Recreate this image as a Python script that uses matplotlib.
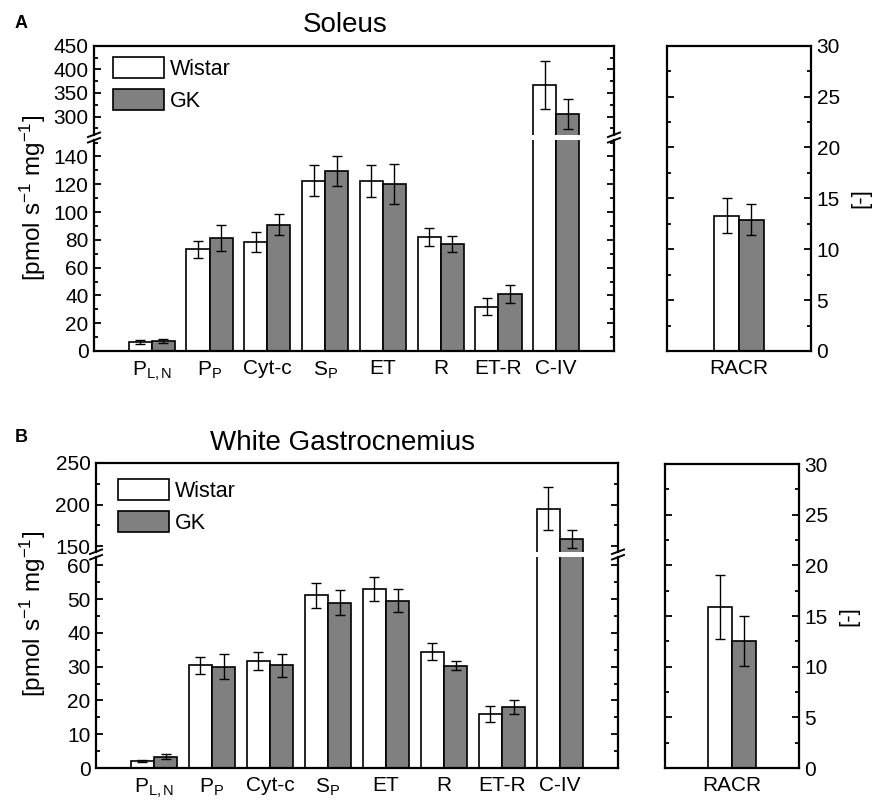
import matplotlib
matplotlib.use('Agg')
import numpy as np
import matplotlib.pyplot as plt
from matplotlib.ticker import MultipleLocator
from matplotlib.lines import Line2D

plt.rcParams['font.family'] = ['Liberation Sans', 'DejaVu Sans']
plt.rcParams['mathtext.fontset'] = 'custom'
plt.rcParams['mathtext.rm'] = 'Liberation Sans'
plt.rcParams['mathtext.it'] = 'Liberation Sans:italic'

W, H = 873, 800

categories = ['$\\mathregular{P_{L,N}}$', '$\\mathregular{P_P}$', 'Cyt-c', '$\\mathregular{S_P}$',
              'ET', 'R', 'ET-R', 'C-IV']

# Soleus
sol_wistar = [6.3, 73.2, 78.4, 122.5, 122.5, 81.7, 32.0, 367]
sol_wistar_err = [1.5, 6.0, 7.0, 11.0, 11.5, 6.5, 6.0, 50]
sol_gk = [7.2, 81.2, 91.0, 129.5, 120.0, 77.0, 41.0, 305]
sol_gk_err = [1.5, 9.6, 7.5, 11.0, 14.5, 6.0, 6.5, 32]
sol_racr = [13.3, 12.9]
sol_racr_err = [1.7, 1.55]

# White gastrocnemius
wg_wistar = [2.1, 30.4, 31.8, 51.2, 53.1, 34.4, 16.0, 195]
wg_wistar_err = [0.3, 2.6, 2.7, 3.7, 3.6, 2.5, 2.5, 26]
wg_gk = [3.4, 30.0, 30.4, 49.0, 49.6, 30.3, 18.0, 158.5]
wg_gk_err = [0.8, 3.7, 3.4, 3.6, 3.3, 1.3, 2.0, 11]
wg_racr = [15.9, 12.55]
wg_racr_err = [3.15, 2.45]

GRAY = '#808080'
FS = 15
LW_SPINE = 1.6
LW_BAR = 1.2
ERR_KW = dict(ecolor='black', elinewidth=1.0, capsize=3.5, capthick=1.0)


def px_axes(fig, x0, y0, x1, y1):
    return fig.add_axes([x0 / W, 1 - y1 / H, (x1 - x0) / W, (y1 - y0) / H])


def break_mark(fig, x, y):
    yu = H - y
    for dy in (-5, 0.5):
        fig.add_artist(Line2D([(x - 6) / W, (x + 6) / W], [(yu + dy) / H, (yu + dy + 4.5) / H],
                              transform=fig.transFigure, color='black', lw=1.4))


def style_axis(ax, major, minor):
    for s in ax.spines.values():
        s.set_linewidth(LW_SPINE)
    ax.yaxis.set_major_locator(MultipleLocator(major))
    ax.yaxis.set_minor_locator(MultipleLocator(minor))
    ax.tick_params(axis='y', which='both', direction='in', left=True, right=True, labelsize=FS, pad=4,
                   width=1.3)
    ax.tick_params(axis='y', which='major', length=5)
    ax.tick_params(axis='y', which='minor', length=3)


def main_panel(fig, box, wistar, wistar_err, gk, gk_err, lo_lim, hi_lim, lo_tk, hi_tk, leg_xy):
    x0, x1, ytop, ybrk1, ybrk2, ybot = box
    ax_u = px_axes(fig, x0, ytop, x1, ybrk1)
    ax_l = px_axes(fig, x0, ybrk2, x1, ybot)
    x = np.arange(1, len(categories) + 1)
    for ax in (ax_u, ax_l):
        ax.bar(x - 0.2, wistar, 0.4, color='white', edgecolor='black', linewidth=LW_BAR,
               yerr=wistar_err, error_kw=ERR_KW, label='Wistar')
        ax.bar(x + 0.2, gk, 0.4, color=GRAY, edgecolor='black', linewidth=LW_BAR,
               yerr=gk_err, error_kw=ERR_KW, label='GK')
        ax.set_xlim(0, len(categories) + 1)
    ax_u.set_ylim(*hi_lim)
    ax_l.set_ylim(*lo_lim)
    style_axis(ax_u, *hi_tk)
    style_axis(ax_l, *lo_tk)
    ax_u.spines['bottom'].set_visible(False)
    ax_l.spines['top'].set_visible(False)
    ax_u.set_xticks([])
    ax_l.set_xticks(x)
    ax_l.set_xticklabels(categories, fontsize=FS)
    ax_l.tick_params(axis='x', length=0, pad=6)
    ybrk = (ybrk1 + ybrk2) / 2
    break_mark(fig, x0, ybrk)
    break_mark(fig, x1, ybrk)
    ax_u.legend(loc='upper left', bbox_to_anchor=(leg_xy[0] / W, 1 - leg_xy[1] / H),
                bbox_transform=fig.transFigure, frameon=False, fontsize=15.5, borderpad=0,
                handlelength=2.35, handleheight=1.15, labelspacing=0.42, handletextpad=0.3,
                borderaxespad=0)
    return ax_u, ax_l


def racr_panel(fig, box, vals, errs, width, lab_xy):
    x0, x1, ytop, ybot = box
    ax = px_axes(fig, x0, ytop, x1, ybot)
    ax.bar(-width / 2, vals[0], width, color='white', edgecolor='black', linewidth=LW_BAR,
           yerr=errs[0], error_kw=ERR_KW)
    ax.bar(width / 2, vals[1], width, color=GRAY, edgecolor='black', linewidth=LW_BAR,
           yerr=errs[1], error_kw=ERR_KW)
    ax.set_xlim(-1, 1)
    ax.set_ylim(0, 30)
    style_axis(ax, 5, 2.5)
    ax.tick_params(axis='y', labelleft=False, labelright=True)
    ax.set_xticks([0])
    ax.set_xticklabels(['RACR'], fontsize=FS)
    ax.tick_params(axis='x', length=0, pad=6)
    fig.text(lab_xy[0] / W, 1 - lab_xy[1] / H, '[-]', fontsize=16, rotation=90,
             ha='center', va='center')
    return ax


fig = plt.figure(figsize=(W / 100, H / 100), dpi=100)

# panel A
main_panel(fig, (94, 614, 45.7, 135, 140, 351), sol_wistar, sol_wistar_err, sol_gk, sol_gk_err,
           (0, 151.8), (261, 450), (20, 10), (50, 25), (113, 57))
racr_panel(fig, (667, 811, 45.7, 351), sol_racr, sol_racr_err, 0.343, (861, 198))
fig.text(345 / W, 1 - 25 / H, 'Soleus', fontsize=20, ha='center', va='center')
fig.text(21 / W, 1 - 24 / H, 'A', fontsize=13, fontweight='bold', ha='center', va='center')
fig.text(33 / W, 1 - 198 / H, '[pmol s$^{-1}$ mg$^{-1}$]', fontsize=17.5, rotation=90,
         ha='center', va='center')

# panel B
main_panel(fig, (96, 618, 463, 552, 557, 768), wg_wistar, wg_wistar_err, wg_gk, wg_gk_err,
           (0, 62.5), (143, 250), (10, 5), (50, 25), (118, 479))
racr_panel(fig, (665, 799, 464, 768), wg_racr, wg_racr_err, 0.355, (849, 616))
fig.text(343 / W, 1 - 443 / H, 'White Gastrocnemius', fontsize=20, ha='center', va='center')
fig.text(21 / W, 1 - 438 / H, 'B', fontsize=13, fontweight='bold', ha='center', va='center')
fig.text(33 / W, 1 - 614 / H, '[pmol s$^{-1}$ mg$^{-1}$]', fontsize=17.5, rotation=90,
         ha='center', va='center')

fig.savefig('out.png', dpi=100)
